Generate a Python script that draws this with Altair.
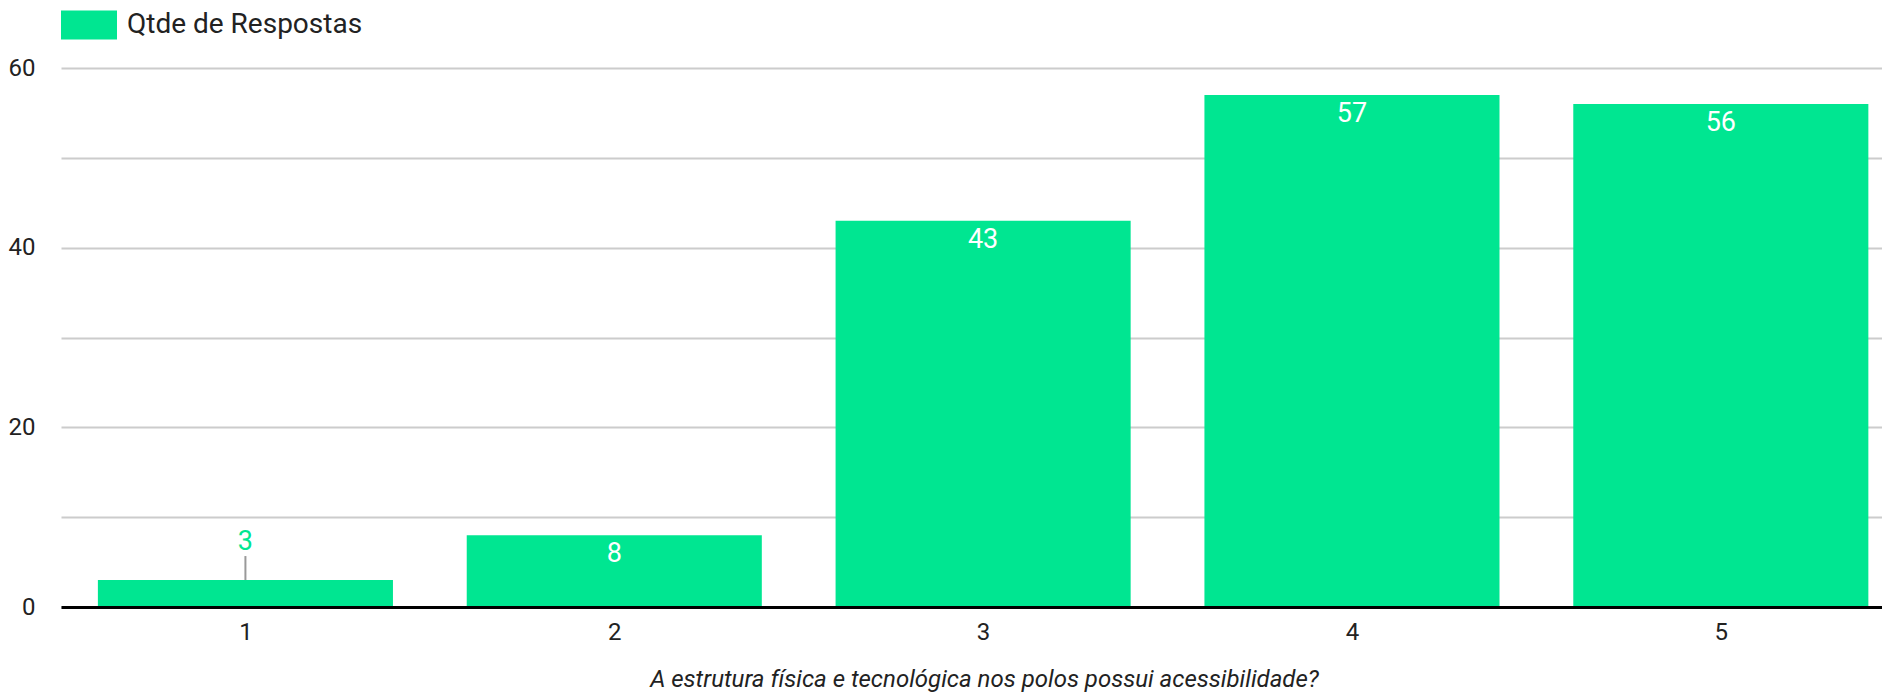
import altair as alt
import pandas as pd

categories = [1, 2, 3, 4, 5]
values = [3, 8, 43, 57, 56]
series_name = "Qtde de Respostas"
x_title = "A estrutura física e tecnológica nos polos possui acessibilidade?"
y_ticks = [0, 10, 20, 30, 40, 50, 60]

df = pd.DataFrame({"cat": categories, "value": values, "series": series_name})

GREEN = "#00E691"
FONT = "Roboto"
TXT = "#222222"

base = alt.Chart(df).transform_calculate(lo="datum.cat - 0.4", hi="datum.cat + 0.4")

xscale = alt.Scale(domain=[0.5, 5.437], nice=False, zero=False)
yscale = alt.Scale(domain=[0, 60], nice=False, padding=0)

bars = base.mark_bar().encode(
    x=alt.X(
        "lo:Q",
        scale=xscale,
        axis=alt.Axis(
            values=categories, format="d", title=x_title, grid=False, ticks=False,
            domainColor="#000000", domainWidth=3, labelPadding=13, zindex=1,
            titleFont=FONT, titleFontStyle="italic", titleFontWeight="normal",
            titleFontSize=24, titlePadding=23, titleColor=TXT, titleX=923,
        ),
    ),
    x2="hi:Q",
    y=alt.Y(
        "value:Q",
        scale=yscale,
        axis=alt.Axis(
            values=y_ticks, title=None, domain=False, ticks=False, labelPadding=26,
            gridColor="#cccccc", gridWidth=2,
            labelExpr="datum.value % 20 === 0 ? datum.label : ''",
        ),
    ),
    y2=alt.datum(0),
    color=alt.Color(
        "series:N",
        scale=alt.Scale(domain=[series_name], range=[GREEN]),
        legend=alt.Legend(
            title=None, orient="none", legendX=0, legendY=-71,
            symbolType="M-1,-0.518L1,-0.518L1,0.518L-1,0.518Z", symbolSize=3136,
            symbolStrokeWidth=0, symbolOpacity=1, labelFont=FONT, labelFontSize=28,
            labelColor=TXT, labelOffset=10, labelLimit=600, padding=0,
        ),
    ),
)

inside = base.transform_filter("datum.value > 5").mark_text(
    dy=19, color="white", font=FONT, fontSize=27, baseline="middle"
).encode(x="cat:Q", y="value:Q", text="value:Q")

outside = base.transform_filter("datum.value <= 5").mark_text(
    dy=-38, color=GREEN, font=FONT, fontSize=27, baseline="middle"
).encode(x="cat:Q", y="value:Q", text="value:Q")

leader = base.transform_filter("datum.value <= 5").mark_rule(
    color="#999999", strokeWidth=2, y2Offset=-24
).encode(x="cat:Q", y="value:Q", y2="value:Q")

chart = alt.layer(bars, leader, inside, outside).properties(
    width=1821, height=539,
    autosize=alt.AutoSizeParams(type="none"),
    padding={"left": 53, "top": 60, "right": 0, "bottom": 85},
).configure_view(stroke=None).configure_axis(
    labelFont=FONT, labelFontSize=24, labelColor=TXT
)

chart.save("out.html", embed_options={"renderer": "svg", "actions": False})
